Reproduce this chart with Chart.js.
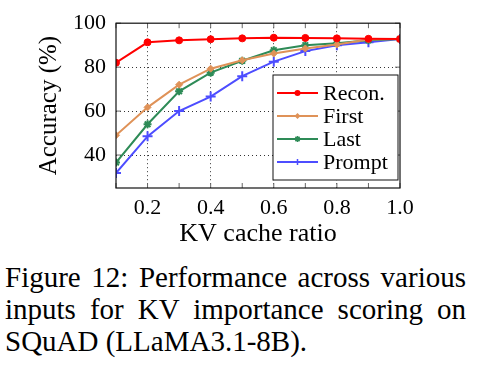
<!DOCTYPE html>
<html>
<head>
<meta charset="utf-8">
<script src="https://cdn.jsdelivr.net/npm/chart.js@4/dist/chart.umd.min.js"></script>
<style>
  body { margin: 0; background: #fff; width: 477px; height: 376px; position: relative; overflow: hidden; }
  #plot { position: absolute; left: 0; top: 0; }
  #caption {
    position: absolute; left: 5px; top: 261px; width: 461px;
    font-family: "Liberation Serif"; font-size: 29px; line-height: 32px;
    text-align: justify; color: #000;
  }
</style>
</head>
<body>
<canvas id="plot" width="477" height="250"></canvas>
<div id="caption">Figure 12: Performance across various inputs for KV importance scoring on SQuAD (LLaMA3.1-8B).</div>
<script>
const ratios = [0.1, 0.2, 0.3, 0.4, 0.5, 0.6, 0.7, 0.8, 0.9, 1.0];
const recon = [82, 91.3, 92.2, 92.7, 93.1, 93.4, 93.3, 93.1, 92.9, 92.8];
const first = [49, 61.7, 72, 79.3, 83.1, 86.2, 88.5, 90.3, 92.6, 92.8];
const last = [36.6, 54, 69, 77.5, 82.9, 87.7, 90, 90.9, 92.2, 92.8];
const prompt = [31.8, 48.5, 60, 66.6, 75.9, 82.5, 87.3, 90, 91.3, 92.8];
const xTicks = [0.2, 0.4, 0.6, 0.8, 1.0];
const yTicks = [40, 60, 80, 100];
const seriesNames = ["Recon.", "First", "Last", "Prompt"];

const SERIF = "'Liberation Serif'";

function pts(ys) {
  return ratios.map((x, i) => ({ x: x, y: ys[i] }));
}

function series(label, ys, color, style, radius) {
  return {
    label: label,
    data: pts(ys),
    borderColor: color,
    backgroundColor: color,
    borderWidth: 2,
    pointStyle: style,
    pointRadius: radius,
    pointBorderWidth: style === "cross" || style === "star" ? 2 : 1,
    pointBorderColor: color,
    pointBackgroundColor: color,
    tension: 0
  };
}

// marker used in the legend box
function marker(ctx, style, x, y, r, color) {
  ctx.save();
  ctx.fillStyle = color;
  ctx.strokeStyle = color;
  ctx.lineWidth = 1.5;
  ctx.beginPath();
  if (style === "circle") {
    ctx.arc(x, y, r, 0, Math.PI * 2);
    ctx.fill();
  } else if (style === "rectRot") {
    ctx.moveTo(x, y - r); ctx.lineTo(x + r, y); ctx.lineTo(x, y + r); ctx.lineTo(x - r, y);
    ctx.closePath();
    ctx.fill();
  } else if (style === "star") {
    for (let k = 0; k < 4; k++) {
      const a = k * Math.PI / 4;
      ctx.moveTo(x - r * Math.cos(a), y - r * Math.sin(a));
      ctx.lineTo(x + r * Math.cos(a), y + r * Math.sin(a));
    }
    ctx.stroke();
  } else {
    ctx.moveTo(x - r, y); ctx.lineTo(x + r, y);
    ctx.moveTo(x, y - r); ctx.lineTo(x, y + r);
    ctx.stroke();
  }
  ctx.restore();
}

const framePlugin = {
  id: "frame",
  afterDatasetsDraw(chart) {
    const { ctx, chartArea: a, scales } = chart;
    ctx.save();
    // inward tick marks
    ctx.strokeStyle = "#666";
    ctx.lineWidth = 1;
    ctx.beginPath();
    ratios.forEach(v => {
      const px = scales.x.getPixelForValue(v);
      ctx.moveTo(px, a.bottom); ctx.lineTo(px, a.bottom - 5);
      ctx.moveTo(px, a.top); ctx.lineTo(px, a.top + 5);
    });
    yTicks.forEach(v => {
      const py = scales.y.getPixelForValue(v);
      ctx.moveTo(a.left, py); ctx.lineTo(a.left + 5, py);
      ctx.moveTo(a.right, py); ctx.lineTo(a.right - 5, py);
    });
    ctx.stroke();
    // axis frame
    ctx.strokeStyle = "#111";
    ctx.lineWidth = 1.2;
    ctx.strokeRect(a.left, a.top, a.right - a.left, a.bottom - a.top);

    // legend box in the lower right corner
    const w = 125, rowH = 23;
    const h = 13 + rowH * chart.data.datasets.length;
    const bx = a.right - 2 - w, by = a.bottom - 8 - h;
    ctx.fillStyle = "#fff";
    ctx.fillRect(bx, by, w, h);
    ctx.strokeStyle = "#111";
    ctx.lineWidth = 1;
    ctx.strokeRect(bx, by, w, h);
    ctx.font = "22px " + SERIF;
    ctx.textBaseline = "middle";
    ctx.textAlign = "left";
    chart.data.datasets.forEach((ds, i) => {
      const cy = by + 18 + rowH * i;
      ctx.strokeStyle = ds.borderColor;
      ctx.lineWidth = 2;
      ctx.beginPath();
      ctx.moveTo(bx + 4, cy); ctx.lineTo(bx + 45, cy);
      ctx.stroke();
      marker(ctx, ds.pointStyle, bx + 24.5, cy, 3, ds.borderColor);
      ctx.fillStyle = "#000";
      ctx.fillText(ds.label, bx + 50, cy + 1);
    });
    ctx.restore();
  }
};

const dotted = {
  drawTicks: false,
  color: ctx => (ctx.tick && ctx.tick.value >= 100) || (ctx.tick && Math.abs(ctx.tick.value - 1.0) < 1e-9) ? "rgba(0,0,0,0)" : "#333",
  lineWidth: 1
};

new Chart(document.getElementById("plot"), {
  type: "line",
  data: {
    datasets: [
      series(seriesNames[0], recon, "#ff0000", "circle", 3.5),
      series(seriesNames[1], first, "#df9258", "rectRot", 3.5),
      series(seriesNames[2], last, "#2e8b57", "star", 4),
      series(seriesNames[3], prompt, "#4d4dff", "cross", 5)
    ]
  },
  options: {
    responsive: false,
    animation: false,
    layout: { padding: { left: 0, right: 77, top: 21, bottom: 0 } },
    plugins: { legend: { display: false }, tooltip: { enabled: false } },
    scales: {
      x: {
        type: "linear",
        min: 0.1,
        max: 1.0,
        afterBuildTicks: s => { s.ticks = xTicks.map(v => ({ value: v })); },
        afterFit: s => { s.height = 62; },
        grid: dotted,
        border: { display: false, dash: [1, 3] },
        ticks: {
          padding: 7,
          color: "#000",
          font: { family: SERIF, size: 22 },
          callback: v => v.toFixed(1)
        },
        title: {
          display: true,
          text: "KV cache ratio",
          color: "#000",
          padding: { top: 0, bottom: 3 },
          font: { family: SERIF, size: 26, lineHeight: 1 }
        }
      },
      y: {
        min: 25,
        max: 100,
        afterBuildTicks: s => { s.ticks = yTicks.map(v => ({ value: v })); },
        afterFit: s => { s.width = 116; },
        grid: dotted,
        border: { display: false, dash: [1, 3] },
        ticks: {
          padding: 10,
          color: "#000",
          font: { family: SERIF, size: 22 },
          callback: v => String(v)
        },
        title: {
          display: true,
          text: "Accuracy (%)",
          color: "#000",
          padding: { top: 37, bottom: 0 },
          font: { family: SERIF, size: 25, lineHeight: 1 }
        }
      }
    }
  },
  plugins: [framePlugin]
});
</script>
</body>
</html>
